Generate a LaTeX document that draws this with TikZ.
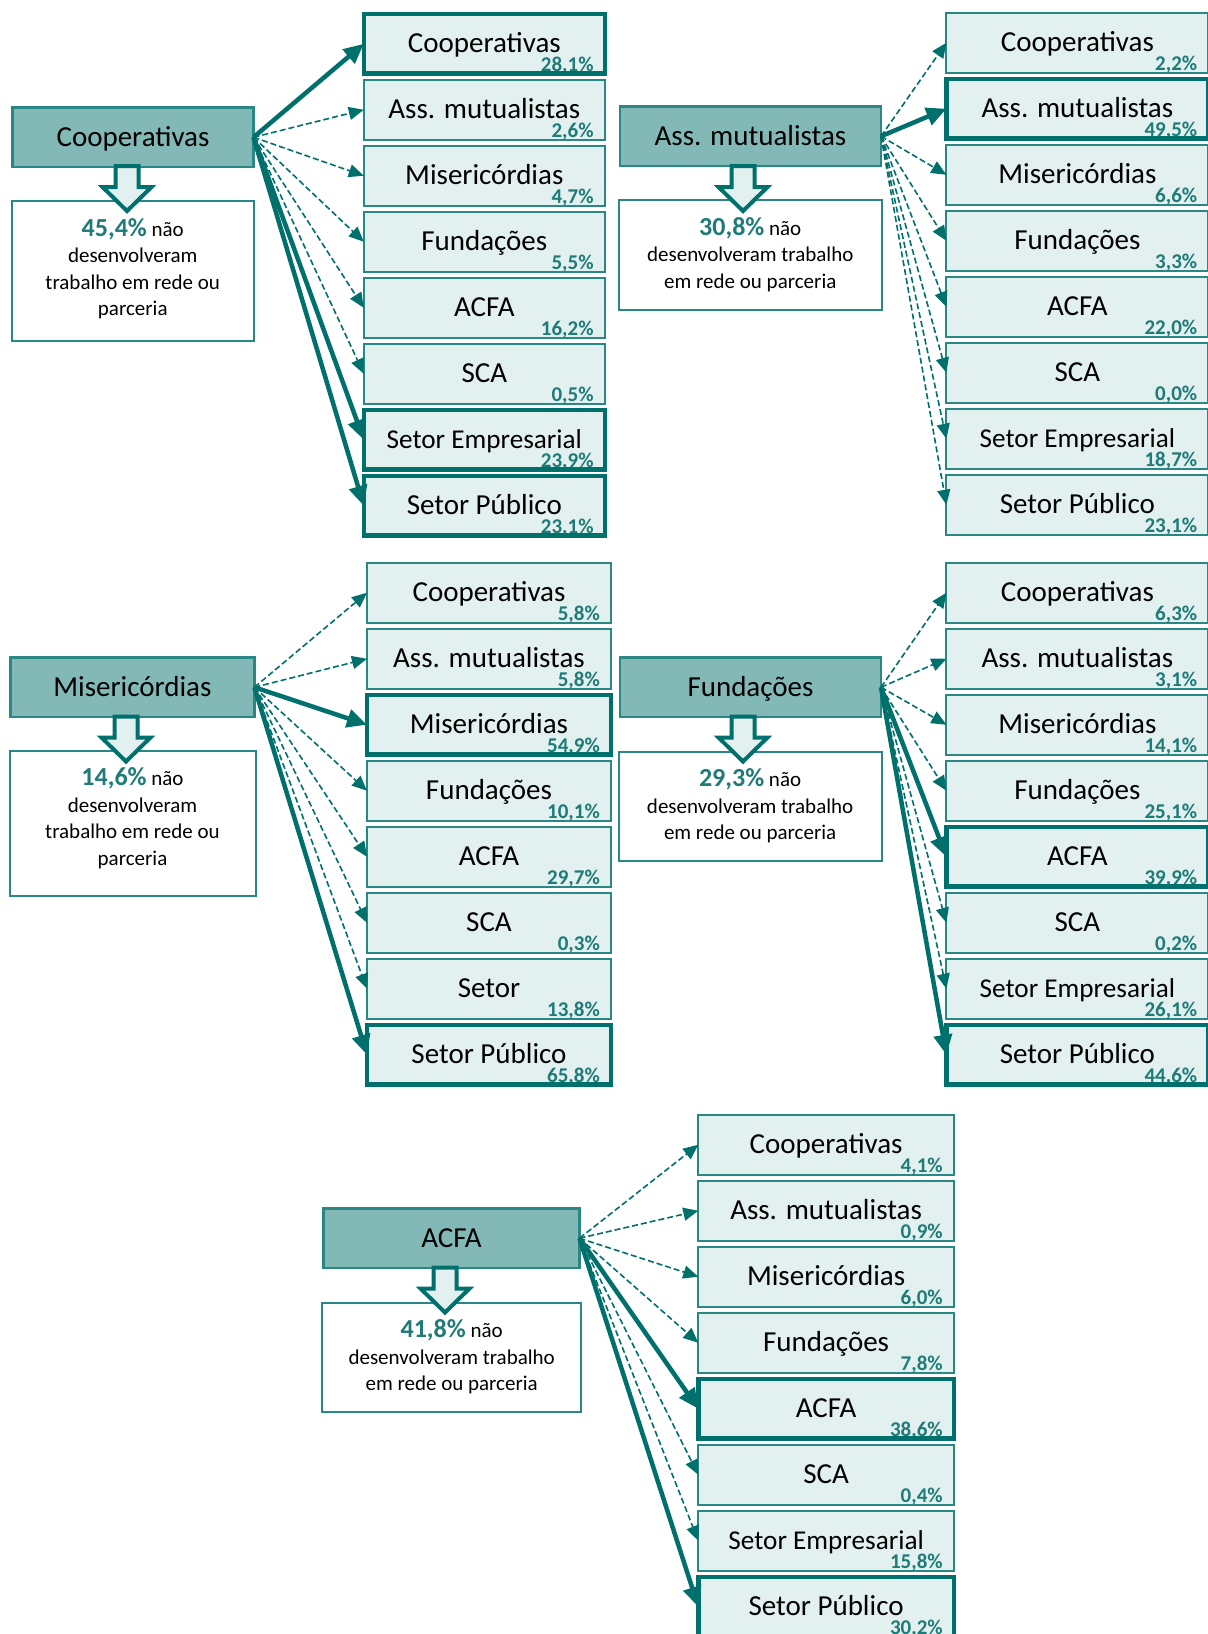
\documentclass[tikz,border=0pt]{standalone}
\usepackage{fontspec}
\setmainfont{Carlito}
\usetikzlibrary{arrows.meta}
\definecolor{dteal}{HTML}{00706C}
\definecolor{srcfill}{HTML}{82B9B7}
\definecolor{srcborder}{HTML}{2B8783}
\definecolor{tgtfill}{HTML}{E3F0F0}
\definecolor{tborder}{HTML}{2A8884}
\definecolor{pctc}{HTML}{1E7B77}
\tikzset{
 srcst/.style={fill=srcfill, draw=srcborder, line width=2.2pt, inner sep=0pt, outer sep=0pt},
 srclbl/.style={font=\fontsize{29}{34}\selectfont, inner sep=0pt},
 tgtst/.style={fill=tgtfill, inner sep=0pt, outer sep=0pt, minimum height=59.5pt},
 thinb/.style={draw=tborder, line width=2pt},
 thickb/.style={draw=dteal, line width=4.5pt},
 tlbl/.style={font=\fontsize{29}{34}\selectfont, inner sep=0pt},
 pctst/.style={font=\fontsize{21}{24}\selectfont\bfseries, text=pctc, inner sep=0pt},
 txtbox/.style={draw=tborder, line width=2pt, fill=white, inner sep=0pt, outer sep=0pt, anchor=north west},
 txt/.style={font=\fontsize{21}{26.5}\selectfont, align=center, inner sep=0pt, anchor=north},
 dasharr/.style={draw=dteal, line width=1.6pt, dash pattern=on 6pt off 3pt, -{Triangle[length=15pt,width=13pt]}},
 thickarr/.style={draw=dteal, line width=4.5pt, -{Triangle[length=20pt,width=18pt]}},
 hollow/.style={draw=dteal, line width=4pt, fill=tgtfill, line join=miter},
}
\newcommand\bigpct[1]{{\color{pctc}\fontsize{26}{26.5}\selectfont\bfseries #1}}
\newcommand\setemp{{\fontsize{27.2}{30}\selectfont Setor Empresarial}}
\newcommand\srcnode[6]{%
 \node[srcst, minimum width=#4pt, minimum height=#5pt, anchor=north west] (#1) at (#2,#3) {};
 \node[srclbl, anchor=base] (#1-l) at ([yshift=-39pt]#1.north) {#6};}
\newcommand\tgtnode[7]{%
 \node[tgtst, minimum width=#4pt, anchor=north west] (#1) at (#2,#3) {};
 \node[tlbl, anchor=base] (#1-l) at ([yshift=-38pt]#1.north) {#5};
 \node[pctst, anchor=base east] (#1-p) at ([xshift=-11pt,yshift=2pt]#1.south east) {#6};
 \draw[#7] (#1.south west) rectangle (#1.north east);}
\newcommand\txtnode[6]{%
 \node[txtbox, minimum width=#4pt, minimum height=#5pt] (#1) at (#2,#3) {};
 \node[txt] (#1-t) at ([yshift=-15pt]#1.north) {\rule{0pt}{20pt}#6};}
\newcommand\hollowarrow[1]{%
 \draw[hollow, shift={(#1)}] (-11.5,0) -- (-11.5,21) -- (-24.5,21) -- (0,45) -- (24.5,21) -- (11.5,21) -- (11.5,0) -- cycle;}
\begin{document}
\begin{tikzpicture}[x=1pt,y=-1pt]
\fill[white] (0,0) rectangle (1208,1634);
\useasboundingbox (0,0) rectangle (1208,1634);

% ---------- Panel 1: Cooperativas ----------
\srcnode{p1s}{12.5}{107.5}{241}{59.5}{Cooperativas}
\tgtnode{p1t1}{363.8}{14}{241}{Cooperativas}{28,1\%}{thickb}
\tgtnode{p1t2}{363.8}{80}{241}{Ass. mutualistas}{2,6\%}{thinb}
\tgtnode{p1t3}{363.8}{146}{241}{Misericórdias}{4,7\%}{thinb}
\tgtnode{p1t4}{363.8}{212}{241}{Fundações}{5,5\%}{thinb}
\tgtnode{p1t5}{363.8}{278}{241}{ACFA}{16,2\%}{thinb}
\tgtnode{p1t6}{363.8}{344}{241}{SCA}{0,5\%}{thinb}
\tgtnode{p1t7}{363.8}{410}{241}{\setemp}{23,9\%}{thickb}
\tgtnode{p1t8}{363.8}{476}{241}{Setor Público}{23,1\%}{thickb}
\txtnode{p1b}{11.5}{201}{242.5}{140}{\bigpct{45,4\%} não\\desenvolveram\\trabalho em rede ou\\parceria}
\coordinate (p1a) at (127,166);
\hollowarrow{p1a}
\foreach \i/\s in {2/dasharr,3/dasharr,4/dasharr,5/dasharr,6/dasharr,1/thickarr,7/thickarr,8/thickarr}
  \draw[\s] (p1s.east) -- (p1t\i.west);

% ---------- Panel 2: Ass. mutualistas ----------
\srcnode{p2s}{620}{106.5}{261}{59.5}{Ass. mutualistas}
\tgtnode{p2t1}{946.4}{13}{262}{Cooperativas}{2,2\%}{thinb}
\tgtnode{p2t2}{946.4}{79}{262}{Ass. mutualistas}{49,5\%}{thickb}
\tgtnode{p2t3}{946.4}{145}{262}{Misericórdias}{6,6\%}{thinb}
\tgtnode{p2t4}{946.4}{211}{262}{Fundações}{3,3\%}{thinb}
\tgtnode{p2t5}{946.4}{277}{262}{ACFA}{22,0\%}{thinb}
\tgtnode{p2t6}{946.4}{343}{262}{SCA}{0,0\%}{thinb}
\tgtnode{p2t7}{946.4}{409}{262}{\setemp}{18,7\%}{thinb}
\tgtnode{p2t8}{946.4}{475}{262}{Setor Público}{23,1\%}{thinb}
\txtnode{p2b}{618.5}{200}{263.5}{109.5}{\bigpct{30,8\%} não\\desenvolveram trabalho\\em rede ou parceria}
\coordinate (p2a) at (743,166);
\hollowarrow{p2a}
\foreach \i/\s in {1/dasharr,3/dasharr,4/dasharr,5/dasharr,6/dasharr,7/dasharr,8/dasharr,2/thickarr}
  \draw[\s] (p2s.east) -- (p2t\i.west);

% ---------- Panel 3: Misericórdias ----------
\srcnode{p3s}{10.4}{657.5}{244}{59.5}{Misericórdias}
\tgtnode{p3t1}{367}{563}{244}{Cooperativas}{5,8\%}{thinb}
\tgtnode{p3t2}{367}{629}{244}{Ass. mutualistas}{5,8\%}{thinb}
\tgtnode{p3t3}{367}{695}{244}{Misericórdias}{54,9\%}{thickb}
\tgtnode{p3t4}{367}{761}{244}{Fundações}{10,1\%}{thinb}
\tgtnode{p3t5}{367}{827}{244}{ACFA}{29,7\%}{thinb}
\tgtnode{p3t6}{367}{893}{244}{SCA}{0,3\%}{thinb}
\tgtnode{p3t7}{367}{959}{244}{Setor}{13,8\%}{thinb}
\tgtnode{p3t8}{367}{1025}{244}{Setor Público}{65,8\%}{thickb}
\txtnode{p3b}{9.5}{750.7}{246}{145}{\bigpct{14,6\%} não\\desenvolveram\\trabalho em rede ou\\parceria}
\coordinate (p3a) at (126,716.5);
\hollowarrow{p3a}
\foreach \i/\s in {1/dasharr,2/dasharr,4/dasharr,5/dasharr,6/dasharr,7/dasharr,3/thickarr,8/thickarr}
  \draw[\s] (p3s.east) -- (p3t\i.west);

% ---------- Panel 4: Fundações ----------
\srcnode{p4s}{620}{657.5}{261}{59.5}{Fundações}
\tgtnode{p4t1}{946.4}{563}{262}{Cooperativas}{6,3\%}{thinb}
\tgtnode{p4t2}{946.4}{629}{262}{Ass. mutualistas}{3,1\%}{thinb}
\tgtnode{p4t3}{946.4}{695}{262}{Misericórdias}{14,1\%}{thinb}
\tgtnode{p4t4}{946.4}{761}{262}{Fundações}{25,1\%}{thinb}
\tgtnode{p4t5}{946.4}{827}{262}{ACFA}{39,9\%}{thickb}
\tgtnode{p4t6}{946.4}{893}{262}{SCA}{0,2\%}{thinb}
\tgtnode{p4t7}{946.4}{959}{262}{\setemp}{26,1\%}{thinb}
\tgtnode{p4t8}{946.4}{1025}{262}{Setor Público}{44,6\%}{thickb}
\txtnode{p4b}{618.6}{751.7}{263}{109}{\bigpct{29,3\%} não\\desenvolveram trabalho\\em rede ou parceria}
\coordinate (p4a) at (743,716.5);
\hollowarrow{p4a}
\foreach \i/\s in {1/dasharr,2/dasharr,3/dasharr,4/dasharr,6/dasharr,7/dasharr,5/thickarr,8/thickarr}
  \draw[\s] (p4s.east) -- (p4t\i.west);

% ---------- Panel 5: ACFA ----------
\srcnode{p5s}{323.5}{1208.5}{256}{59.5}{ACFA}
\tgtnode{p5t1}{698.3}{1115}{255.6}{Cooperativas}{4,1\%}{thinb}
\tgtnode{p5t2}{698.3}{1181}{255.6}{Ass. mutualistas}{0,9\%}{thinb}
\tgtnode{p5t3}{698.3}{1247}{255.6}{Misericórdias}{6,0\%}{thinb}
\tgtnode{p5t4}{698.3}{1313}{255.6}{Fundações}{7,8\%}{thinb}
\tgtnode{p5t5}{698.3}{1379}{255.6}{ACFA}{38,6\%}{thickb}
\tgtnode{p5t6}{698.3}{1445}{255.6}{SCA}{0,4\%}{thinb}
\tgtnode{p5t7}{698.3}{1511}{255.6}{\setemp}{15,8\%}{thinb}
\tgtnode{p5t8}{698.3}{1577}{255.6}{Setor Público}{30,2\%}{thickb}
\txtnode{p5b}{322.4}{1302.7}{258.5}{109}{\bigpct{41,8\%} não\\desenvolveram trabalho\\em rede ou parceria}
\coordinate (p5a) at (445,1267.5);
\hollowarrow{p5a}
\foreach \i/\s in {1/dasharr,2/dasharr,3/dasharr,4/dasharr,6/dasharr,7/dasharr,5/thickarr,8/thickarr}
  \draw[\s] (p5s.east) -- (p5t\i.west);
\end{tikzpicture}
\end{document}
